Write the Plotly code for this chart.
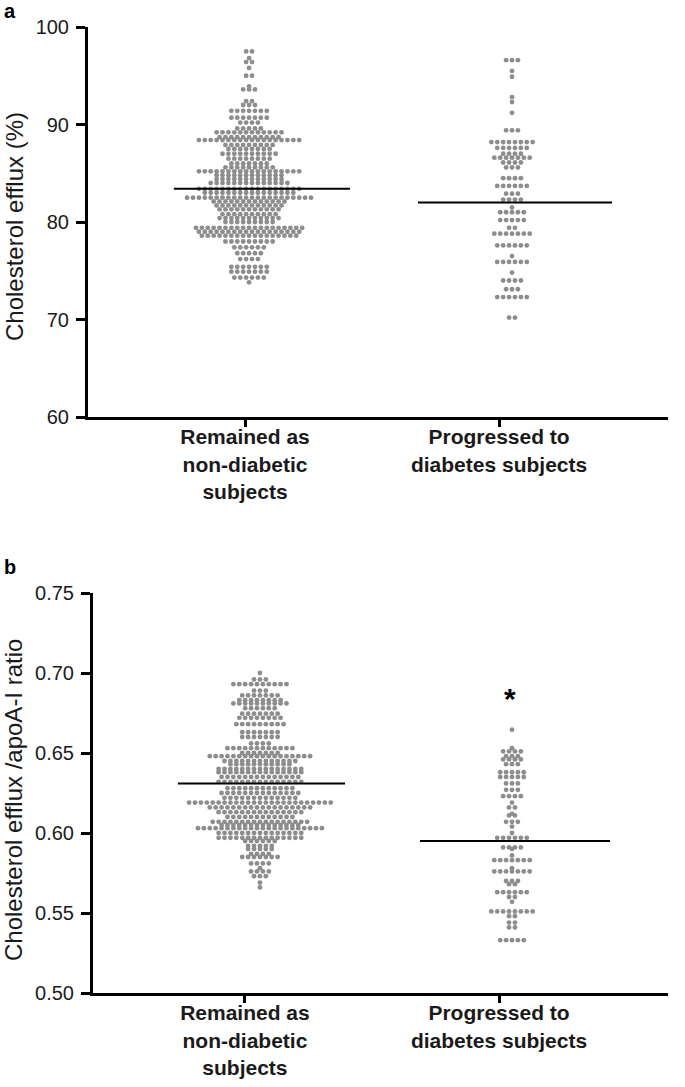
import plotly.graph_objects as go

# ---------------- data ----------------
categories = ["<b>Remained as<br>non-diabetic<br>subjects</b>",
              "<b>Progressed to<br>diabetes subjects</b>"]
y_ticks_a = [60, 70, 80, 90, 100]
y_ticks_b = [0.50, 0.55, 0.60, 0.65, 0.70, 0.75]
y_ticktext_b = ["0.50", "0.55", "0.60", "0.65", "0.70", "0.75"]

# Panel a: cholesterol efflux (%) — value rows and number of dots per row
a_rem_vals = [97.5, 96.8, 96.4, 95.8, 95.0, 93.9, 93.6, 92.4, 92.0, 91.4, 90.7, 90.2,
              89.6, 89.2, 88.7, 88.4, 87.9, 87.5, 87.0, 86.5, 86.0, 85.6, 85.2, 84.8,
              84.4, 84.0, 83.4, 83.0, 82.5, 82.1, 81.7, 81.3, 80.8, 80.4, 80.0, 79.4,
              79.0, 78.6, 78.0, 77.4, 76.8, 76.2, 75.4, 74.9, 74.3, 73.8]
a_rem_counts = [2, 1, 2, 1, 2, 1, 3, 2, 3, 7, 7, 4,
                5, 12, 11, 18, 9, 8, 10, 8, 7, 9, 18, 12,
                12, 14, 18, 16, 22, 13, 12, 11, 10, 11, 9, 19,
                18, 17, 9, 6, 5, 4, 7, 7, 6, 1]

a_prog_vals = [96.6, 95.5, 94.9, 92.8, 92.3, 91.2, 89.4, 88.2, 87.6, 87.0, 86.6, 86.1,
               85.6, 84.5, 83.7, 82.9, 82.3, 81.5, 81.0, 80.2, 79.4, 78.8, 77.6, 76.5,
               75.9, 74.8, 74.0, 73.1, 72.3, 70.2]
a_prog_counts = [3, 1, 1, 1, 1, 1, 3, 8, 6, 4, 7, 4,
                 3, 4, 6, 3, 4, 1, 5, 5, 2, 7, 6, 1,
                 6, 1, 4, 3, 6, 2]

# Panel b: cholesterol efflux / apoA-I ratio
b_rem_vals = [0.700, 0.696, 0.693, 0.689, 0.686, 0.683, 0.681, 0.678, 0.6746, 0.672,
              0.668, 0.663, 0.660, 0.656, 0.653, 0.650, 0.648, 0.645, 0.643, 0.640,
              0.638, 0.635, 0.632, 0.628, 0.625, 0.622, 0.619, 0.616, 0.613, 0.610,
              0.607, 0.605, 0.603, 0.600, 0.597, 0.595, 0.592, 0.590, 0.587, 0.585,
              0.581, 0.578, 0.576, 0.573, 0.569, 0.566]
b_rem_counts = [1, 3, 10, 3, 7, 8, 10, 6, 7, 8,
                9, 7, 7, 4, 12, 7, 18, 13, 11, 15,
                15, 14, 15, 12, 14, 13, 25, 18, 15, 12,
                17, 14, 22, 15, 15, 6, 5, 5, 4, 7,
                4, 1, 4, 3, 1, 1]

b_prog_vals = [0.6646, 0.653, 0.651, 0.648, 0.646, 0.643, 0.638, 0.635, 0.631, 0.627,
               0.623, 0.619, 0.616, 0.612, 0.611, 0.607, 0.604, 0.600, 0.597, 0.591,
               0.590, 0.586, 0.583, 0.578, 0.576, 0.570, 0.568, 0.563, 0.560, 0.557,
               0.551, 0.548, 0.544, 0.541, 0.533]
b_prog_counts = [1, 1, 4, 3, 4, 3, 5, 5, 3, 3,
                 4, 1, 2, 1, 2, 3, 1, 1, 6, 4,
                 1, 1, 7, 1, 7, 3, 2, 6, 2, 1,
                 8, 2, 2, 2, 5]

means_a = [83.4, 82.0]
means_b = [0.631, 0.595]

# ---------------- layout constants ----------------
W, H = 685, 1087
PX_PER_CAT = 254.0           # pixels between the two category ticks
DOT_STEP = 5.9 / PX_PER_CAT  # horizontal dot pitch in category units
FONT = "Liberation Sans, Arial, Helvetica, sans-serif"
DOT_COLOR = "#8d8d8d"
TXT = "#1a1a1a"


def swarm(center, vals, counts):
    xs, ys = [], []
    for v, n in zip(vals, counts):
        for i in range(n):
            xs.append(center + (i - (n - 1) / 2.0) * DOT_STEP)
            ys.append(v)
    return xs, ys


fig = go.Figure()

centres_a = [0.016, 1.051]
centres_b = [0.059, 1.051]
line_ext_a = [(-0.28, 0.413), (0.681, 1.445)]
line_ext_b = [(-0.264, 0.394), (0.689, 1.437)]

for c, vals, cnts in [(centres_a[0], a_rem_vals, a_rem_counts),
                      (centres_a[1], a_prog_vals, a_prog_counts)]:
    xs, ys = swarm(c, vals, cnts)
    fig.add_trace(go.Scatter(x=xs, y=ys, mode="markers", xaxis="x", yaxis="y",
                             marker=dict(size=4.8, color=DOT_COLOR, line=dict(width=0)),
                             showlegend=False, hoverinfo="y"))
for c, vals, cnts in [(centres_b[0], b_rem_vals, b_rem_counts),
                      (centres_b[1], b_prog_vals, b_prog_counts)]:
    xs, ys = swarm(c, vals, cnts)
    fig.add_trace(go.Scatter(x=xs, y=ys, mode="markers", xaxis="x2", yaxis="y2",
                             marker=dict(size=4.8, color=DOT_COLOR, line=dict(width=0)),
                             showlegend=False, hoverinfo="y"))

for (x0, x1), m in zip(line_ext_a, means_a):
    fig.add_trace(go.Scatter(x=[x0, x1], y=[m, m], mode="lines", xaxis="x", yaxis="y",
                             line=dict(color="black", width=2), showlegend=False,
                             hoverinfo="skip"))
for (x0, x1), m in zip(line_ext_b, means_b):
    fig.add_trace(go.Scatter(x=[x0, x1], y=[m, m], mode="lines", xaxis="x2", yaxis="y2",
                             line=dict(color="black", width=2), showlegend=False,
                             hoverinfo="skip"))

base = dict(showline=True, linecolor="black", linewidth=3, ticks="outside",
            tickcolor="black", tickwidth=2.5, showgrid=False, zeroline=False,
            automargin=False)
xfont = dict(family=FONT, size=21, color=TXT)
yfont = dict(family=FONT, size=20, color=TXT)

fig.update_layout(
    width=W, height=H,
    margin=dict(l=0, r=0, t=0, b=0, pad=0, autoexpand=False),
    paper_bgcolor="white", plot_bgcolor="white",
    font=dict(family=FONT),
    xaxis=dict(domain=[88 / W, 668 / W], range=[-0.618, 1.665], anchor="y",
               tickvals=[0, 1], ticktext=categories, ticklen=7, tickfont=xfont,
               ticklabelstandoff=-8, **base),
    yaxis=dict(domain=[1 - 417 / H, 1 - 27 / H], range=[60, 100], anchor="x",
               tickvals=y_ticks_a, ticklen=9, tickfont=yfont,
               ticklabelstandoff=3, **base),
    xaxis2=dict(domain=[93 / W, 668 / W], range=[-0.598, 1.665], anchor="y2",
                tickvals=[0, 1], ticktext=categories, ticklen=7, tickfont=xfont,
                ticklabelstandoff=-8, **base),
    yaxis2=dict(domain=[1 - 993 / H, 1 - 593 / H], range=[0.50, 0.75], anchor="x2",
                tickvals=y_ticks_b, ticktext=y_ticktext_b, ticklen=9, tickfont=yfont,
                ticklabelstandoff=3, **base),
)

annotations = [
    dict(text="<b>a</b>", x=10 / W, y=1 - 11 / H, xref="paper", yref="paper",
         xanchor="center", yanchor="middle", width=14, height=18, showarrow=False,
         font=dict(family=FONT, size=20, color="black")),
    dict(text="<b>b</b>", x=10 / W, y=1 - 567 / H, xref="paper", yref="paper",
         xanchor="center", yanchor="middle", width=14, height=18, showarrow=False,
         font=dict(family=FONT, size=20, color="black")),
    dict(text="Cholesterol efflux (%)", x=14 / W, y=1 - 227 / H, xref="paper",
         yref="paper", textangle=-90, xanchor="center", yanchor="middle",
         showarrow=False, font=dict(family=FONT, size=24, color=TXT)),
    dict(text="Cholesterol efflux /apoA-I ratio", x=13 / W, y=1 - 800 / H,
         xref="paper", yref="paper", textangle=-90, xanchor="center",
         yanchor="middle", showarrow=False, font=dict(family=FONT, size=24, color=TXT)),
    dict(text="<b>*</b>", x=1.043, y=0.684, xref="x2", yref="y2", showarrow=False,
         xanchor="center", yanchor="middle",
         font=dict(family=FONT, size=30, color="black")),
]
fig.update_layout(annotations=annotations)

# remove the browser's default 8px page margin so the figure sits at (0, 0)
fig.write_html("out.html", config={"displayModeBar": False},
               post_script="document.body.style.margin='0px';")
